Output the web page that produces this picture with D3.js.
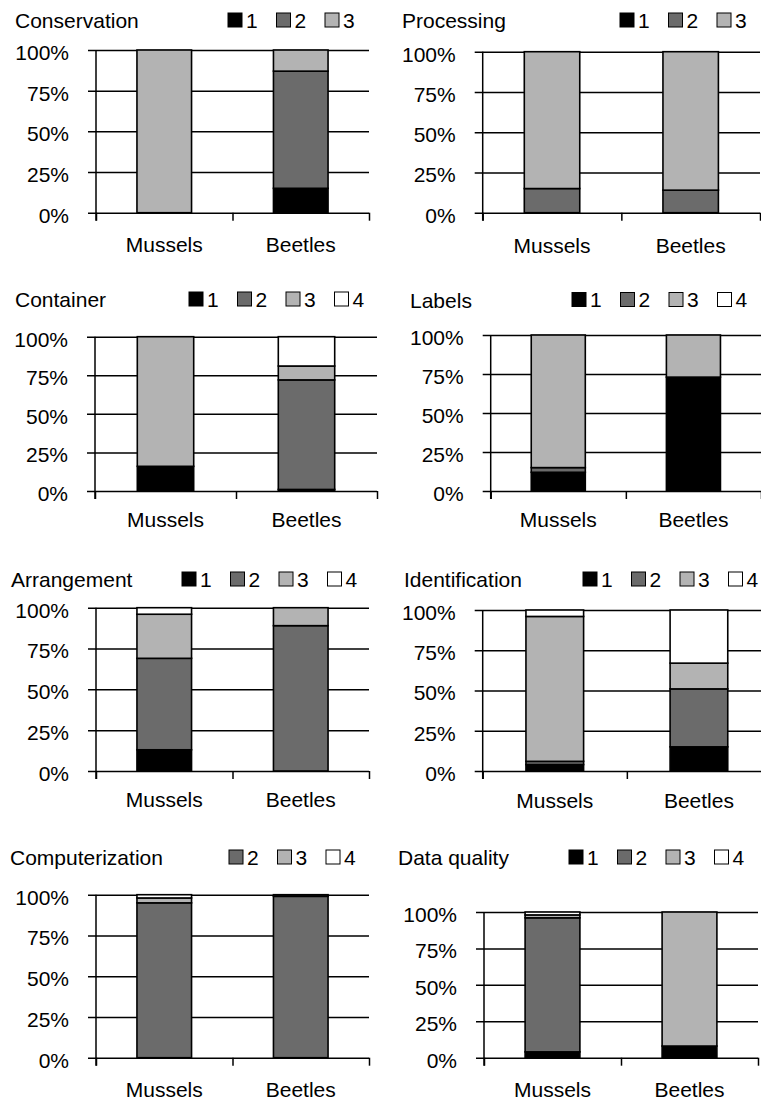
<!DOCTYPE html>
<html>
<head>
<meta charset="utf-8">
<script src="https://cdn.jsdelivr.net/npm/d3@7.9.0/dist/d3.min.js"></script>
<style>
  body { margin: 0; background: #fff; }
  svg text { font-family: "Liberation Sans", Arial, sans-serif; font-size: 21px; fill: #000; }
</style>
</head>
<body>
<svg id="chart" width="761" height="1102"></svg>
<script>
// data (percent of each bar)
const panelTitles = ['Conservation', 'Processing', 'Container', 'Labels',
  'Arrangement', 'Identification', 'Computerization', 'Data quality'];
const categories = ['Mussels', 'Beetles'];
const levels = ['1', '2', '3', '4'];
const levelColors = ['#000000', '#6b6b6b', '#b3b3b3', '#ffffff'];
const legendKeys = [
  ['1', '2', '3'], ['1', '2', '3'], ['1', '2', '3', '4'], ['1', '2', '3', '4'],
  ['1', '2', '3', '4'], ['1', '2', '3', '4'], ['2', '3', '4'], ['1', '2', '3', '4']
];
// values for levels 1..4
const musselsShares = [
  [0, 0, 100, 0], [0, 15, 85, 0], [16, 0, 84, 0], [12, 3, 85, 0],
  [13, 56, 27, 4], [4, 2, 90, 4], [0, 95, 3, 2], [4, 92, 2, 2]
];
const beetlesShares = [
  [15, 72, 13, 0], [0, 14, 86, 0], [1, 71, 9, 19], [73, 0, 27, 0],
  [0, 89, 11, 0], [15, 36, 16, 33], [0, 99, 0, 1], [8, 0, 92, 0]
];
const yTicks = [0, 25, 50, 75, 100];

// where each small chart sits on the page
const layout = [
  { x0: 96, x1: 369, y0: 50, y1: 212.7, tx: 15, ty: 28, lx: 228, gap: 24 },
  { x0: 482.7, x1: 760, y0: 51.7, y1: 212.7, tx: 402, ty: 28, lx: 620, gap: 25 },
  { x0: 95, x1: 377, y0: 336.7, y1: 491, tx: 15, ty: 307, lx: 189, gap: 21 },
  { x0: 490.7, x1: 761, y0: 335, y1: 491, tx: 410, ty: 307.5, lx: 572, gap: 21 },
  { x0: 96, x1: 369, y0: 607.7, y1: 771, tx: 11, ty: 587, lx: 182, gap: 21 },
  { x0: 482.7, x1: 771, y0: 610, y1: 771, tx: 404, ty: 587, lx: 583, gap: 22 },
  { x0: 96, x1: 369, y0: 894.7, y1: 1057.7, tx: 10, ty: 865, lx: 229, gap: 24 },
  { x0: 484, x1: 758, y0: 912, y1: 1057.7, tx: 398, ty: 865, lx: 569, gap: 24 }
];

const svg = d3.select('#chart');
const color = d3.scaleOrdinal().domain(levels).range(levelColors);

panelTitles.forEach((title, i) => {
  const L = layout[i];
  const w = L.x1 - L.x0;
  const h = L.y1 - L.y0;
  const g = svg.append('g').attr('transform', `translate(${L.x0},${L.y0})`);

  const x = d3.scaleBand().domain(categories).range([0, w])
    .paddingInner(0.6).paddingOuter(0.3);
  const xEdge = d3.scaleLinear().domain([0, 2]).range([0, w]);
  const y = d3.scaleLinear().domain([0, 100]).range([h, 0]);

  // gridlines + y axis
  const yAxis = g.append('g')
    .call(d3.axisLeft(y).tickValues(yTicks).tickSize(-w).tickPadding(27)
      .tickFormat(d => d + '%'));
  yAxis.select('.domain').remove();
  yAxis.selectAll('.tick line').attr('x1', -8).attr('stroke', '#000').attr('stroke-width', 1.5);
  yAxis.selectAll('.tick text').attr('x', -27).attr('dy', '0.45em');
  g.append('line').attr('x1', 0).attr('x2', 0).attr('y1', 0).attr('y2', h + 8)
    .attr('stroke', '#000').attr('stroke-width', 1.5);

  // tick marks between categories
  const xTicks = g.append('g').attr('transform', `translate(0,${h})`)
    .call(d3.axisBottom(xEdge).tickValues([0, 1, 2]).tickSize(8).tickFormat(''));
  xTicks.select('.domain').remove();
  xTicks.selectAll('line').attr('stroke', '#000').attr('stroke-width', 1.5);

  // category labels
  const xLabels = g.append('g').attr('transform', `translate(0,${h})`)
    .call(d3.axisBottom(x).tickSize(0).tickPadding(L.gap));
  xLabels.select('.domain').remove();

  // stacked bars
  const rows = categories.map((c, k) => {
    const vals = k === 0 ? musselsShares[i] : beetlesShares[i];
    const row = { cat: c };
    levels.forEach((lv, j) => { row[lv] = vals[j]; });
    return row;
  });
  const series = d3.stack().keys(levels)(rows);

  g.selectAll('g.layer')
    .data(series)
    .join('g')
    .attr('class', 'layer')
    .attr('fill', d => color(d.key))
    .selectAll('rect')
    .data(d => d.filter(s => s[1] - s[0] > 0))
    .join('rect')
    .attr('x', d => x(d.data.cat))
    .attr('width', x.bandwidth())
    .attr('y', d => y(d[1]))
    .attr('height', d => y(d[0]) - y(d[1]))
    .attr('stroke', '#000')
    .attr('stroke-width', 1.6);

  // title
  svg.append('text').attr('x', L.tx).attr('y', L.ty).text(title);

  // legend
  const leg = svg.append('g').attr('transform', `translate(${L.lx},${L.ty - 15})`);
  const item = leg.selectAll('g')
    .data(legendKeys[i])
    .join('g')
    .attr('transform', (d, j) => `translate(${j * 48.5},0)`);
  item.append('rect')
    .attr('width', 14).attr('height', 14)
    .attr('fill', d => color(d))
    .attr('stroke', '#000').attr('stroke-width', 1);
  item.append('text').attr('x', 18).attr('y', 14.5).text(d => d);
});
</script>
</body>
</html>
